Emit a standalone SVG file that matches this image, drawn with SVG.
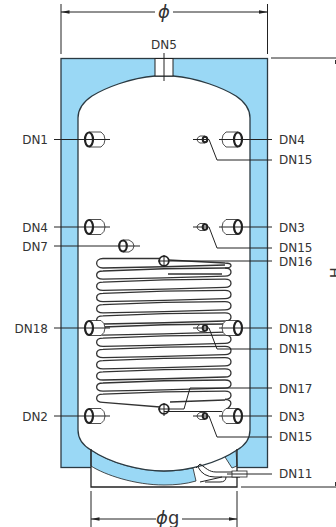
<svg xmlns="http://www.w3.org/2000/svg" width="336" height="527" viewBox="0 0 336 527">
<style>
text{font-family:"DejaVu Sans","Liberation Sans",sans-serif;font-size:12px;fill:#333}
.e{text-anchor:end}
.m{text-anchor:middle}
.l{fill:none;stroke:#222;stroke-width:1}
.b{fill:#fff;stroke:#222;stroke-width:.8}
.t{fill:#fff;stroke:#222;stroke-width:2.2}
.c{fill:none;stroke:#333;stroke-width:1.3}
.p{font-size:18px;font-style:italic}
</style>
<defs>
<marker id="a" markerWidth="9" markerHeight="6" refX="8.5" refY="3" orient="auto-start-reverse"><path d="M0 1.2L9 3L0 4.8z" fill="#222"/></marker>
<g id="nl"><path class="b" d="M89 -7.500H101Q105 -5 105 0Q105 5 101 7.500H89z"/><ellipse class="t" cx="89" cy="0" rx="4" ry="7"/></g>
<g id="nr"><path class="b" d="M238 -7.500H226Q222 -5 222 0Q222 5 226 7.500H238z"/><ellipse class="t" cx="238" cy="0" rx="4" ry="7"/></g>
<g id="ns"><path class="b" d="M205 -3.500H200Q197 -2 197 0Q197 2 200 3.500H205z"/><ellipse cx="205" cy="0" rx="2.300" ry="2.800" fill="#fff" stroke="#222" stroke-width="2"/></g>
<path id="row" class="c" d="M103 0Q164 -1 225 -3M103 3Q164 0 225 0M103 3C94.500 3 94.500 11.200 103 11.200M225 0C233 0 233 8.200 225 8.200"/>
</defs>
<g id="tank">
<rect x="61" y="58.500" width="206.500" height="409" fill="#9ad8f5" stroke="#2b3a42" stroke-width="1.300"/>
<path d="M91 449V487H237V449z" fill="#fff"/>
<path d="M91 450C110 463 140 471 164 471C174 471 184 470 193 468L196 481C186 484 175 485 164 485C135 485 105 475 91 466z" fill="#9ad8f5" stroke="#222" stroke-width=".8"/>
<path d="M225 457L236 450L237 466L232 468z" fill="#9ad8f5" stroke="#222" stroke-width=".8"/>
<path d="M155 76C130 78 105 88 92 96C83 102 78 110 78 118V430C78 440 84 446 91 450C110 463 140 471 164 471C188 471 218 463 237 450C244 446 250 440 250 430V118C250 110 245 102 236 96C223 88 198 78 173 76z" fill="#fff" stroke="#2b3a42" stroke-width="1.300"/>
<rect x="155" y="58.500" width="18" height="17.500" fill="#fff" stroke="#222"/>
<path d="M91 449V487H237V449" fill="none" stroke="#222" stroke-width="1.300"/>
</g>
<g id="coil">
<path class="c" d="M160 258.500H103C94.500 258.500 94.500 268 103 268M168 260L225 263C233 263 233 268 225 268M168 274H222M170 402L225 400M225 399.400C233 400 232 405 227 409M103 402.400L160 407"/>
<use href="#row" y="268"/>
<use href="#row" y="279.200"/>
<use href="#row" y="290.400"/>
<use href="#row" y="301.600"/>
<use href="#row" y="312.800"/>
<use href="#row" y="324"/>
<use href="#row" y="335.200"/>
<use href="#row" y="346.400"/>
<use href="#row" y="357.600"/>
<use href="#row" y="368.800"/>
<use href="#row" y="380"/>
<use href="#row" y="391.200"/>
</g>
<g id="drain">
<path class="l" d="M196 468L200 464C206 468 209 472 216 472H232M198 467Q203 477 215 477H240M200 482L222 477M205 482H220Q226 482 226 477"/>
<rect x="232" y="471" width="15" height="6" fill="#fff" stroke="#222" stroke-width=".8"/>
</g>
<g id="DN5"><text class="m" x="164" y="49">DN5</text></g>
<g id="DN1"><use href="#nl" y="139.500"/><text class="e" x="48" y="144">DN1</text></g>
<g id="DN4-r"><use href="#nr" y="139.500"/><text x="279" y="144">DN4</text></g>
<g id="DN15-a"><use href="#ns" y="139.500"/><text x="279" y="164">DN15</text></g>
<g id="DN4-l"><use href="#nl" y="227"/><text class="e" x="48" y="231.500">DN4</text></g>
<g id="DN3-a"><use href="#nr" y="227"/><text x="279" y="231.500">DN3</text></g>
<g id="DN15-b"><use href="#ns" y="227"/><text x="279" y="252">DN15</text></g>
<g id="DN7"><path class="b" d="M123 240H129Q134 242 134 246Q134 250 129 252H123z"/><ellipse class="t" cx="123" cy="246" rx="3.800" ry="5.500"/><text class="e" x="48" y="250.500">DN7</text></g>
<g id="DN16"><circle cx="164" cy="261" r="4.800" fill="#fff" stroke="#222" stroke-width="1.800"/><text x="279" y="266">DN16</text></g>
<g id="DN18-l"><use href="#nl" y="328"/><text class="e" x="48" y="333">DN18</text></g>
<g id="DN18-r"><use href="#nr" y="328"/><text x="279" y="333">DN18</text></g>
<g id="DN15-c"><use href="#ns" y="328"/><text x="279" y="353">DN15</text></g>
<g id="DN17"><circle cx="164" cy="409" r="4.800" fill="#fff" stroke="#222" stroke-width="1.800"/><text x="279" y="393">DN17</text></g>
<g id="DN2"><use href="#nl" y="416"/><text class="e" x="48" y="421">DN2</text></g>
<g id="DN3-b"><use href="#nr" y="416"/><text x="279" y="421">DN3</text></g>
<g id="DN15-d"><use href="#ns" y="416"/><text x="279" y="441">DN15</text></g>
<g id="DN11"><text x="279" y="478">DN11</text></g>
<g id="connectors">
<path class="l" d="M164 53V81"/>
<path class="l" d="M54 139.500H110M219 139.500H272M193 139.500H209L217 160H272"/>
<path class="l" d="M54 227H110M219 227H272M193 227H209L217 248H272"/>
<path class="l" d="M54 246H140"/>
<path class="l" d="M158 261H272M164 255V267"/>
<path class="l" d="M54 328H110M219 328H272M193 328H209L217 349H272"/>
<path class="l" d="M272 388H190L184 409H158M164 403V416"/>
<path class="l" d="M164 411.500H222"/>
<path class="l" d="M54 416H110M219 416H272M193 416H209L217 437H272"/>
<path class="l" d="M227 474H272"/>
<path class="l" d="M61 4V54M267.500 4V54M91 491V527M237 491V527"/>
<path class="l" marker-start="url(#a)" d="M61 12H155"/>
<path class="l" marker-end="url(#a)" d="M173 12H267.500"/>
<path class="l" marker-start="url(#a)" d="M91 519H156"/>
<path class="l" marker-end="url(#a)" d="M182 519H237"/>
<path class="l" d="M271 58H336M241 487H336"/>
<path d="M335 60h1v4h-1zM335 482h1v4h-1z" fill="#333"/>
</g>
<g id="dims">
<text class="m p" x="164" y="18">ϕ</text>
<text x="156" y="524" style="font-size:18px"><tspan font-style="italic">ϕ</tspan>g</text>
<text x="340" y="278" style="font-size:14px" transform="rotate(-90 340 278)">H</text>
</g>
</svg>
